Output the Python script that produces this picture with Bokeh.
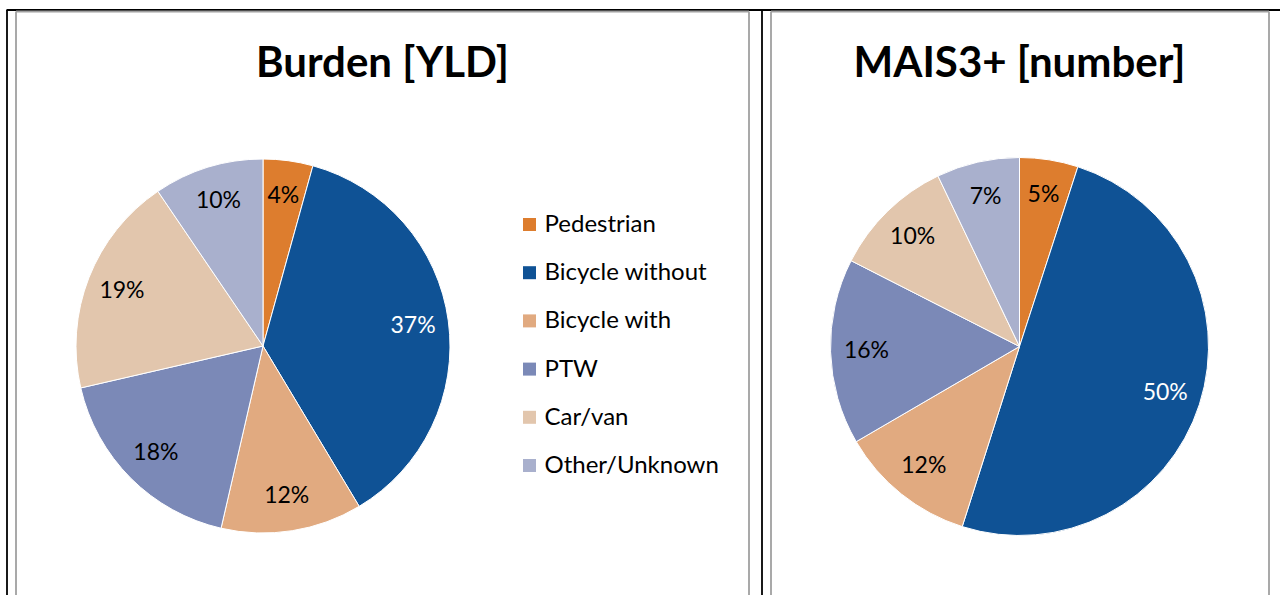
import math
from bokeh.plotting import figure
from bokeh.models import Range1d
from bokeh.core.properties import value
from bokeh.embed import file_html
from bokeh.resources import INLINE

# ---- data ----
categories = ["Pedestrian", "Bicycle without", "Bicycle with", "PTW", "Car/van", "Other/Unknown"]
colors = ["#DD7D2E", "#0F5295", "#E1AA80", "#7B89B7", "#E2C6AD", "#A9B0CD"]
burden_yld = [4.3, 37.1, 12.2, 17.8, 19.1, 9.5]
burden_labels = ["4%", "37%", "12%", "18%", "19%", "10%"]
mais3_number = [5.0, 49.9, 11.7, 15.9, 10.4, 7.1]
mais3_labels = ["5%", "50%", "12%", "16%", "10%", "7%"]
titles = ["Burden [YLD]", "MAIS3+ [number]"]
label_colors_left = ["black", "white", "black", "black", "black", "black"]
label_colors_right = ["black", "white", "black", "black", "black", "black"]

FONT = "Lato"
W, H = 1280, 595

def Y(py):
    return H - py

p = figure(width=W, height=H, output_backend="svg", toolbar_location=None,
           x_range=Range1d(0, W), y_range=Range1d(0, H),
           x_axis_location=None, y_axis_location=None, min_border=0,
           background_fill_color="white", border_fill_color="white")
p.outline_line_color = None
p.grid.visible = False

# ---- frame lines ----
bx0 = [6, 6.5, 761.5]
by0 = [Y(9.5), Y(9.5), Y(9.5)]
bx1 = [1280, 6.5, 761.5]
by1 = [Y(9.5), Y(600), Y(600)]
p.segment(x0=bx0, y0=by0, x1=bx1, y1=by1, line_color="black", line_width=1.8)

gx0 = [15.5, 15.5, 748.5, 770.5, 770.5, 1268.5]
gy0 = [Y(11), Y(11), Y(11), Y(11), Y(11), Y(11)]
gx1 = [748.5, 15.5, 748.5, 1268.5, 770.5, 1268.5]
gy1 = [Y(11), Y(600), Y(600), Y(11), Y(600), Y(600)]
p.segment(x0=gx0, y0=gy0, x1=gx1, y1=gy1, line_color="#A0A0A0", line_width=1.8)

def draw_pie(cx, cy, r, vals, labels, lcolors):
    total = float(sum(vals))
    cum = 0.0
    starts, ends, lx, ly = [], [], [], []
    for v in vals:
        a0 = cum / total
        cum += v
        a1 = cum / total
        # clockwise from 12 o'clock
        starts.append(math.pi / 2 - 2 * math.pi * a1)
        ends.append(math.pi / 2 - 2 * math.pi * a0)
        mid = 2 * math.pi * (a0 + a1) / 2
        lr = 0.81 * r
        lx.append(cx + lr * math.sin(mid))
        ly.append(cy + lr * math.cos(mid) + 2)
    p.wedge(x=cx, y=cy, radius=r, start_angle=starts, end_angle=ends,
            direction="anticlock", fill_color=colors, line_color="white", line_width=1)
    p.text(x=lx, y=ly, text=labels, text_align="center", text_baseline="middle",
           text_font=value(FONT), text_font_size="23px", text_color=lcolors)

draw_pie(262.5, Y(345.5), 187, burden_yld, burden_labels, label_colors_left)
draw_pie(1019, Y(346), 189, mais3_number, mais3_labels, label_colors_right)

# ---- titles ----
p.text(x=[382, 1019], y=[Y(60), Y(60)], text=titles, text_align="center",
       text_baseline="middle", text_font=value(FONT), text_font_size="42px",
       text_font_style="bold", text_color="black")

# ---- legend ----
leg_x = 529
leg_y0 = 224
leg_dy = 48.2
ys = [Y(leg_y0 + i * leg_dy) for i in range(len(categories))]
p.rect(x=[leg_x] * len(categories), y=ys, width=13, height=13,
       fill_color=colors, line_color=None)
p.text(x=[544] * len(categories), y=[v + 2 for v in ys], text=categories, text_align="left",
       text_baseline="middle", text_font=value(FONT), text_font_size="24px",
       text_color="black")

open("out.html", "w").write(file_html(p, INLINE))
